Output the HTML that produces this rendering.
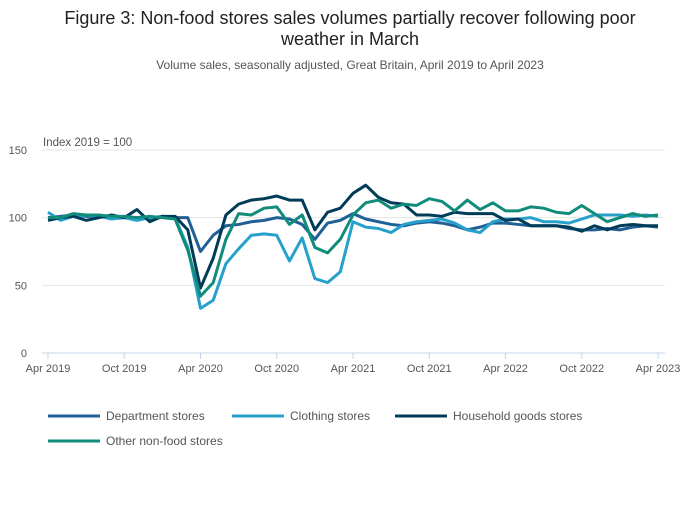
<!DOCTYPE html>
<html><head><meta charset="utf-8"><style>
body{margin:0;background:#fff;font-family:"Liberation Sans",sans-serif;}
</style></head><body>
<svg width="700" height="502" xmlns="http://www.w3.org/2000/svg" font-family="Liberation Sans, sans-serif">
<text x="350" y="24" font-size="18" fill="#222" text-anchor="middle">Figure 3: Non-food stores sales volumes partially recover following poor</text>
<text x="350" y="45" font-size="18" fill="#222" text-anchor="middle">weather in March</text>
<text x="350" y="69" font-size="12" fill="#555" text-anchor="middle">Volume sales, seasonally adjusted, Great Britain, April 2019 to April 2023</text>
<text x="43" y="146" font-size="11.5" fill="#555">Index 2019 = 100</text>
<g id="grid"></g><g id="series"></g><g id="xaxis"></g><g id="legend"></g>
</svg>
<script>
const yTicks=[0,50,100,150];
const xTickLabels=["Apr 2019","Oct 2019","Apr 2020","Oct 2020","Apr 2021","Oct 2021","Apr 2022","Oct 2022","Apr 2023"];
const seriesNames=["Department stores","Clothing stores","Household goods stores","Other non-food stores"];
const department=[100,101,102,101,101,101,100,100,99,101,100,100,75,87,94,95,97,98,100,99,95,84,96,98,103,99,97,95,94,96,97,96,94,91,93,96,96,95,94,94,94,92,91,91,92,91,93,94,93];
const clothing=[104,98,101,102,101,99,100,98,100,101,100,78,33,39,66,77,87,88,87,68,85,55,52,60,97,93,92,89,95,97,98,99,96,91,89,97,99,99,100,97,97,96,99,102,102,102,101,102,101];
const household=[98,100,101,98,100,102,100,106,97,101,101,91,48,70,102,110,113,114,116,113,113,91,104,107,118,124,115,111,110,102,102,101,104,103,103,103,98,99,94,94,94,93,90,94,91,94,95,94,94];
const othernonfood=[100,100,103,102,102,101,101,100,101,100,99,76,42,52,84,103,102,107,108,95,102,78,74,84,102,111,113,107,110,109,114,112,105,113,106,111,105,105,108,107,104,103,109,103,97,100,103,101,102];
const colors=["#206095","#27a0cc","#003c57","#118c7b"];
const NS="http://www.w3.org/2000/svg";
const x=i=>48+i*(610/48), y=v=>353-v*(203/150);
function mk(t,a,p){const e=document.createElementNS(NS,t);for(const k in a)e.setAttribute(k,a[k]);p.appendChild(e);return e;}
const g=document.getElementById('grid');
yTicks.forEach(t=>{
 const l=mk('line',{x1:42,x2:665,y1:y(t),y2:y(t),stroke:t===0?'#c5d5e8':'#e4e4e4','stroke-width':1},g);
 
 
 const tx=mk('text',{x:27,y:y(t)+4,'font-size':11,fill:'#555','text-anchor':'end'},g);tx.textContent=t;
 
 
});
const xa=document.getElementById('xaxis');
xTickLabels.forEach((s,k)=>{
 mk('line',{x1:x(k*6),x2:x(k*6),y1:353,y2:359,stroke:'#c5d5e8'},xa);
 const tx=mk('text',{x:x(k*6),y:372,'font-size':11,fill:'#555','text-anchor':'middle'},xa);tx.textContent=s;
 
 
});
const sg=document.getElementById('series');
[department,clothing,household,othernonfood].forEach((d,k)=>{
 const p=mk('polyline',{points:d.map((v,i)=>x(i)+','+y(v)).join(' '),fill:'none',stroke:colors[k],'stroke-width':3,'stroke-linejoin':'round'},sg);
 
 
});
const lg=document.getElementById('legend');
const pos=[[48,416],[232,416],[395,416],[48,441]];
seriesNames.forEach((s,k)=>{
 const [lx,ly]=pos[k];
 const e=mk('g',{},lg);
 
 
 mk('line',{x1:lx,x2:lx+52,y1:ly,y2:ly,stroke:colors[k],'stroke-width':3},e);
 const t=mk('text',{x:lx+58,y:ly+4,'font-size':12,fill:'#555'},e);t.textContent=s;
});
</script>
</body></html>
